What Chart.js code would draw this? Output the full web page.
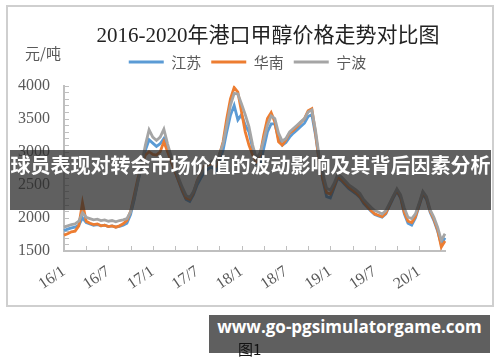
<!DOCTYPE html>
<html>
<head>
<meta charset="utf-8">
<script src="https://cdn.jsdelivr.net/npm/chart.js@4.4.0/dist/chart.umd.min.js"></script>
<style>
  body { margin: 0; width: 500px; height: 362px; position: relative; background: #fff; overflow: hidden; }
  #frame { position: absolute; left: 6px; top: 5px; width: 484px; height: 298px; border: 2px solid #cfcfcf; }
  #c { position: absolute; left: 0; top: 0; }
  #title { position: absolute; left: 0; top: 18px; width: 536px; text-align: center; color: #222;
           font: 21px "Liberation Serif", "Noto Sans CJK SC"; white-space: nowrap; }
  #unit { position: absolute; left: 25px; top: 42px; color: #595959; font: 15px "Noto Sans CJK SC"; }
  #banner { position: absolute; left: 10px; top: 150px; width: 481px; height: 60px; background: rgba(43,43,43,0.75);
            color: #fff; text-align: center; line-height: 64px; font: bold 20px "Noto Sans CJK SC"; white-space: nowrap; }
  #site { position: absolute; left: 209px; top: 315px; width: 281px; height: 38px; background: #5f5f5f;
          color: #fff; text-align: center; line-height: 40px; font: bold 17px "Open Sans"; white-space: nowrap; }
  #fig { position: absolute; left: 238px; top: 338px; color: #111; font: 15px "Noto Sans CJK SC"; }
</style>
</head>
<body>
<div id="frame"></div>
<canvas id="c" width="500" height="362"></canvas>
<div id="title">2016-2020年港口甲醇价格走势对比图</div>
<div id="unit">元/吨</div>
<div id="banner">球员表现对转会市场价值的波动影响及其背后因素分析</div>
<div id="site">www.go-pgsimulatorgame.com</div>
<div id="fig">图1</div>
<script>
// half-month periods, 16/1 上 ... 20/4 下
var periods = [];
for (var yy = 16; yy <= 20; yy++) {
  for (var mm = 1; mm <= 12; mm++) {
    periods.push(yy + '/' + mm + '上');
    periods.push(yy + '/' + mm + '下');
  }
}
periods.length = 104;

var tickLabels = ['16/1', '16/7', '17/1', '17/7', '18/1', '18/7', '19/1', '19/7', '20/1'];

var jiangsu = [
  1810,1830,1850,1860,1890,2000,1930,1910,1890,1900,
  1880,1890,1870,1880,1860,1870,1890,1920,2050,2280,
  2550,2780,3020,3180,3130,3080,3120,3200,3050,2850,
  2700,2550,2400,2280,2250,2350,2500,2600,2700,2740,
  2780,2700,2860,3020,3300,3550,3700,3480,3560,3400,
  3300,3050,2820,2800,3050,3300,3420,3420,3200,3100,
  3140,3220,3280,3330,3380,3430,3530,3560,3250,2850,
  2560,2320,2300,2450,2600,2560,2500,2440,2400,2360,
  2310,2220,2160,2100,2050,2030,2010,2060,2180,2300,
  2400,2300,2060,1920,1890,2000,2180,2360,2280,2080,
  1960,1800,1600,1700
];
var huanan = [
  1740,1760,1790,1800,1880,2230,1950,1920,1900,1910,
  1880,1890,1870,1880,1860,1880,1910,1960,2100,2350,
  2600,2800,2950,3000,2960,2950,3000,3150,3000,2850,
  2700,2560,2420,2300,2280,2380,2560,2680,2780,2800,
  2820,2780,2950,3150,3500,3800,3970,3900,3600,3300,
  3100,2950,2850,2950,3250,3500,3590,3450,3150,3100,
  3180,3280,3320,3380,3440,3500,3620,3650,3280,2850,
  2580,2380,2360,2480,2620,2580,2520,2460,2420,2380,
  2320,2240,2170,2110,2060,2040,2020,2070,2200,2320,
  2420,2320,2080,1950,1930,2020,2200,2380,2300,2100,
  1980,1820,1560,1650
];
var ningbo = [
  1860,1880,1900,1910,1950,2080,2010,1990,1970,1980,
  1960,1970,1950,1960,1940,1960,1970,1990,2090,2300,
  2560,2820,3100,3330,3220,3170,3220,3340,3120,2920,
  2760,2600,2460,2340,2310,2400,2550,2660,2760,2820,
  2860,2820,2960,3120,3400,3700,3880,3870,3720,3560,
  3380,3100,2900,2980,3180,3400,3540,3500,3280,3160,
  3200,3300,3350,3400,3450,3500,3600,3630,3320,2920,
  2660,2450,2420,2520,2660,2620,2560,2500,2460,2420,
  2370,2280,2220,2160,2110,2090,2060,2110,2220,2330,
  2440,2350,2150,2010,1990,2060,2220,2400,2320,2120,
  2010,1860,1660,1760
];

// small inward tick marks on both axes
var axisTicks = {
  id: 'axisTicks',
  beforeDatasetsDraw: function(chart) {
    var ctx = chart.ctx, x = chart.scales.x, y = chart.scales.y;
    ctx.save();
    ctx.strokeStyle = '#bfbfbf';
    ctx.lineWidth = 1;
    ctx.beginPath();
    for (var v = 1500; v <= 4000; v += 100) {
      var py = Math.round(y.getPixelForValue(v)) + 0.5;
      ctx.moveTo(x.left, py);
      ctx.lineTo(x.left + 5, py);
    }
    for (var i = 0; i < periods.length; i += 6) {
      var px = Math.round(x.getPixelForValue(i)) + 0.5;
      ctx.moveTo(px, y.bottom);
      ctx.lineTo(px, y.bottom - 5);
    }
    ctx.stroke();
    ctx.restore();
  }
};

// a bit more room under the legend
var legendGap = {
  id: 'legendGap',
  beforeInit: function(chart) {
    var fit = chart.legend.fit;
    chart.legend.fit = function() {
      fit.call(this);
      this.height += 6;
    };
  }
};

var serif = { family: '"Liberation Serif", "DejaVu Serif"', size: 16 };

new Chart(document.getElementById('c'), {
  type: 'line',
  data: {
    labels: periods,
    datasets: [
      { label: '江苏', data: jiangsu, borderColor: '#5b9bd5', backgroundColor: '#5b9bd5', order: 2 },
      { label: '华南', data: huanan, borderColor: '#ed7d31', backgroundColor: '#ed7d31', order: 1 },
      { label: '宁波', data: ningbo, borderColor: '#a5a5a5', backgroundColor: '#a5a5a5', order: 0 }
    ]
  },
  options: {
    responsive: false,
    animation: false,
    devicePixelRatio: 1,
    layout: { padding: { left: 0, right: 5, top: 44.5, bottom: 51 } },
    elements: {
      line: { borderWidth: 2.8, tension: 0 },
      point: { radius: 0 }
    },
    plugins: {
      title: { display: false },
      tooltip: { enabled: false },
      legend: {
        position: 'top',
        labels: {
          boxWidth: 35,
          boxHeight: 3,
          padding: 10,
          color: '#595959',
          font: { family: '"Noto Sans CJK SC"', size: 15 },
          sort: function(a, b) { return a.datasetIndex - b.datasetIndex; },
          generateLabels: function(chart) {
            return Chart.defaults.plugins.legend.labels.generateLabels(chart).map(function(l) {
              l.lineWidth = 0;
              return l;
            });
          }
        }
      }
    },
    scales: {
      x: {
        grid: { display: false, drawTicks: false },
        border: { color: '#bfbfbf', width: 2 },
        ticks: {
          autoSkip: false,
          minRotation: 34,
          maxRotation: 34,
          padding: 11,
          color: '#595959',
          font: serif,
          callback: function(v, i) { return i % 12 === 0 ? tickLabels[i / 12] : ''; }
        },
        afterFit: function(s) { s.height = 60; }
      },
      y: {
        min: 1500,
        max: 4000,
        grid: { display: false, drawTicks: false },
        border: { color: '#bfbfbf', width: 2 },
        ticks: {
          stepSize: 500,
          padding: 14,
          color: '#595959',
          font: serif,
          callback: function(v) { return String(v); }
        },
        afterFit: function(s) { s.width = 64; }
      },
      yR: {
        type: 'linear',
        position: 'right',
        grid: { display: false, drawTicks: false },
        border: { display: false },
        ticks: { display: false },
        afterFit: function(s) { s.width = 50; }
      }
    }
  },
  plugins: [axisTicks, legendGap]
});
</script>
</body>
</html>
